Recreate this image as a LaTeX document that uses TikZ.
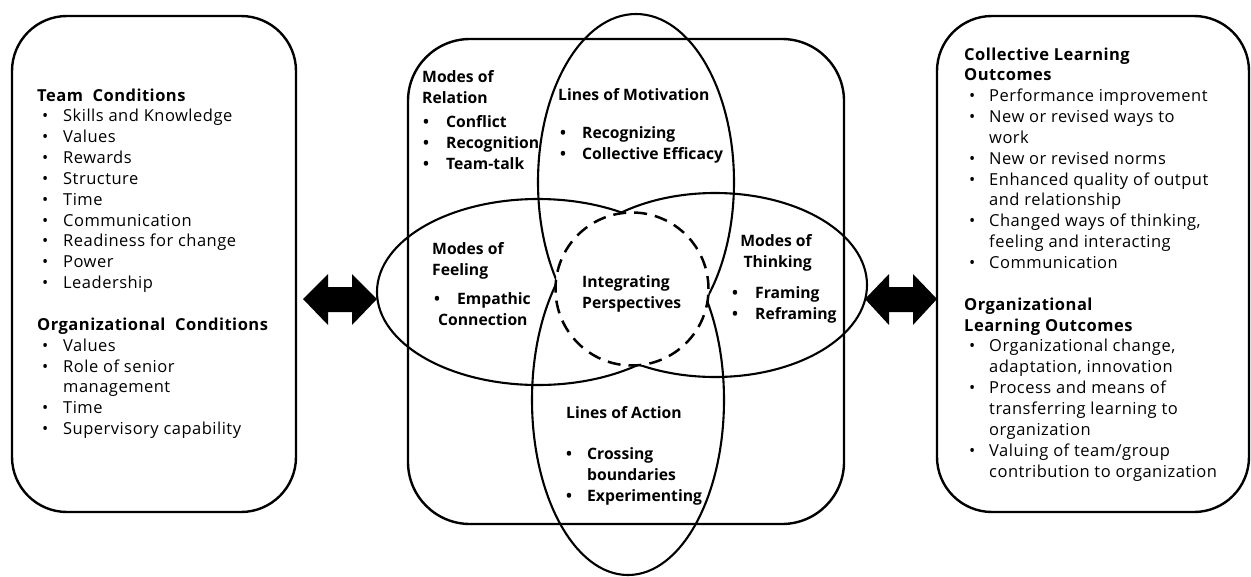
\documentclass[tikz,border=0pt]{standalone}
\usepackage{fontspec}
\setmainfont{Open Sans}
\newfontfamily\sidefont{Open Sans}[LetterSpace=3.0]

% bullet with an offset (#1) inside a box of width #2
\newcommand{\bul}[2]{\makebox[#2][l]{\hspace{#1}\textbullet}}

\tikzset{
  panel/.style={draw, line width=2.4pt, rounded corners=55pt},
  ring/.style={draw, line width=2.1pt},
  txt/.style={anchor=base west, inner sep=0pt, font=\sidefont\fontsize{16.5}{20.85}\selectfont},
  btxt/.style={anchor=base west, inner sep=0pt, font=\fontsize{15.7}{21}\selectfont\bfseries}
}

\begin{document}
\begin{tikzpicture}[x=1pt,y=-1pt]
\useasboundingbox (0,0) rectangle (1251,576);

% side panels and central frame
\draw[panel] (12,16) rectangle (296,512);
\draw[panel] (937,16) rectangle (1249,512);
\draw[panel, rounded corners=62pt] (408,39) rectangle (844,524);

% lines of motivation (upper) and lines of action (lower)
\draw[ring] (636,182) ellipse [x radius=98pt, y radius=168pt];
\draw[ring] (628,400) ellipse [x radius=96pt, y radius=175pt];
% modes of feeling (left) and modes of thinking (right)
\draw[ring] (538,292) ellipse [x radius=161pt, y radius=93pt];
\draw[ring] (715,285) ellipse [x radius=152pt, y radius=92pt];
% integrating perspectives, covering the overlap
\draw[line width=2.5pt, fill=white, dash pattern=on 13pt off 8pt]
  (632,289) circle [radius=76.5pt];

% two-way arrows
\fill (303,299) -- (328,274) -- (328,287) -- (352,287) -- (352,274) -- (377,299)
  -- (352,325) -- (352,312) -- (328,312) -- (328,325) -- cycle;
\fill (865,299) -- (889,274) -- (889,287) -- (913,287) -- (913,274) -- (937,299)
  -- (913,325) -- (913,312) -- (889,312) -- (889,325) -- cycle;

% left panel text
\node[txt] (teamcond) at (37,101) {\begin{tabular}[t]{@{}l@{}}
\textbf{Team\ \ Conditions}\\
\bul{5pt}{26pt}Skills and Knowledge\\
\bul{5pt}{26pt}Values\\
\bul{5pt}{26pt}Rewards\\
\bul{5pt}{26pt}Structure\\
\bul{5pt}{26pt}Time\\
\bul{5pt}{26pt}Communication\\
\bul{5pt}{26pt}Readiness for change\\
\bul{5pt}{26pt}Power\\
\bul{5pt}{26pt}Leadership\\
\\
\textbf{Organizational\ \ Conditions}\\
\bul{5pt}{26pt}Values\\
\bul{5pt}{26pt}Role of senior\\
\hspace*{26pt}management\\
\bul{5pt}{26pt}Time\\
\bul{5pt}{26pt}Supervisory capability
\end{tabular}};

% right panel text
\node[txt] (outcomes) at (964,60) {\begin{tabular}[t]{@{}l@{}}
\textbf{Collective Learning}\\
\textbf{Outcomes}\\
\bul{5pt}{25pt}Performance improvement\\
\bul{5pt}{25pt}New or revised ways to\\
\hspace*{25pt}work\\
\bul{5pt}{25pt}New or revised norms\\
\bul{5pt}{25pt}Enhanced quality of output\\
\hspace*{25pt}and relationship\\
\bul{5pt}{25pt}Changed ways of thinking,\\
\hspace*{25pt}feeling and interacting\\
\bul{5pt}{25pt}Communication\\
\\
\textbf{Organizational}\\
\textbf{Learning Outcomes}\\
\bul{5pt}{25pt}Organizational change,\\
\hspace*{25pt}adaptation, innovation\\
\bul{5pt}{25pt}Process and means of\\
\hspace*{25pt}transferring learning to\\
\hspace*{25pt}organization\\
\bul{5pt}{25pt}Valuing of team/group\\
\hspace*{25pt}contribution to organization
\end{tabular}};

% central labels
\node[btxt] (relation) at (422,82) {\begin{tabular}[t]{@{}l@{}}
Modes of\\
Relation\\[3pt]
\bul{1pt}{24pt}Conflict\\
\bul{1pt}{24pt}Recognition\\
\bul{1pt}{24pt}Team-talk
\end{tabular}};

\node[btxt] (motivation) at (558,100) {\begin{tabular}[t]{@{}l@{}}
Lines of Motivation\\[17pt]
\bul{2pt}{24pt}Recognizing\\
\bul{2pt}{24pt}Collective Efficacy
\end{tabular}};

\node[btxt] (feeling) at (432,254) {\begin{tabular}[t]{@{}l@{}}
Modes of\\
Feeling\\[8pt]
\bul{2pt}{25pt}Empathic\\
\hspace*{6pt}Connection
\end{tabular}};

\node[btxt, anchor=base east] (thinking) at (812,246) {\begin{tabular}[t]{@{}r@{}}
Modes of\\
Thinking
\end{tabular}};
\node[btxt] (thinkitems) at (732,298) {\begin{tabular}[t]{@{}l@{}}
\bul{0pt}{23pt}Framing\\
\bul{0pt}{23pt}Reframing
\end{tabular}};

\node[btxt] (integrating) at (582,287) {\begin{tabular}[t]{@{}l@{}}
Integrating\\
Perspectives
\end{tabular}};

\node[btxt] (action) at (566,418) {Lines of Action};
\node[btxt] (actitems) at (566,459) {\begin{tabular}[t]{@{}l@{}}
\bul{0pt}{21pt}Crossing\\
\hspace*{21pt}boundaries\\
\bul{0pt}{21pt}Experimenting
\end{tabular}};

\end{tikzpicture}
\end{document}
